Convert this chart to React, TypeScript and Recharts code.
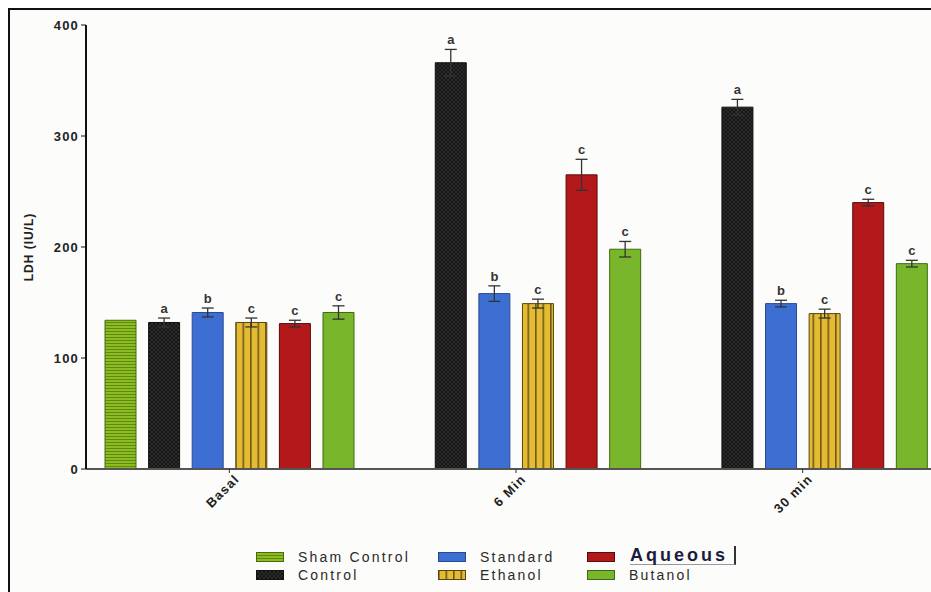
import { BarChart, Bar, XAxis, YAxis, ErrorBar, LabelList } from "recharts";

const categories = ["Basal", "6 Min", "30 min"];
const seriesNames = ["Sham Control", "Control", "Standard", "Ethanol", "Aqueous", "Butanol"];

// LDH (IU/L) means
const shamControl = [134, null, null];
const control = [132, 366, 326];
const standard = [141, 158, 149];
const ethanol = [132, 149, 140];
const aqueous = [131, 265, 240];
const butanol = [141, 198, 185];

// error bars (SEM)
const shamErr = [0, null, null];
const controlErr = [4, 12, 7];
const standardErr = [4, 7, 3];
const ethanolErr = [4, 4, 4];
const aqueousErr = [3, 14, 3];
const butanolErr = [6, 7, 3];

// significance letters
const shamLetters = ["", "", ""];
const controlLetters = ["a", "a", "a"];
const standardLetters = ["b", "b", "b"];
const ethanolLetters = ["c", "c", "c"];
const aqueousLetters = ["c", "c", "c"];
const butanolLetters = ["c", "c", "c"];

const yTicks = [0, 100, 200, 300, 400];

const values = [shamControl, control, standard, ethanol, aqueous, butanol];
const errors = [shamErr, controlErr, standardErr, ethanolErr, aqueousErr, butanolErr];
const letters = [shamLetters, controlLetters, standardLetters, ethanolLetters, aqueousLetters, butanolLetters];

const keys = ["sham", "control", "standard", "ethanol", "aqueous", "butanol"];
const fills = ["url(#pSham)", "url(#pControl)", "#3d6fd3", "url(#pEthanol)", "#b3191b", "#79b62b"];
const strokes = ["#4a6a0e", "#111", "#2a4a90", "#5a4510", "#5a0c0c", "#3f6a12"];

const data = categories.map((name, i) => {
  const row: Record<string, any> = { name };
  keys.forEach((k, s) => {
    row[k] = values[s][i];
    row[k + "Err"] = errors[s][i];
    row[k + "Letter"] = letters[s][i];
  });
  return row;
});

const font = "'Liberation Sans', Arial, sans-serif";

function XTick({ x, y, payload }: any) {
  return (
    <g transform={`translate(${x + 8},${y + 2})`}>
      <text
        transform="rotate(-45)"
        textAnchor="end"
        dy={4}
        fontFamily={font}
        fontWeight="bold"
        fontSize={13}
        letterSpacing={1.2}
        fill="#222"
      >
        {payload.value}
      </text>
    </g>
  );
}

function letterLabel(s: number) {
  return (props: any) => {
    const vb = props.viewBox || props;
    const { x, y, width, height } = vb;
    const idx = props.index;
    const v = values[s][idx];
    const e = errors[s][idx] || 0;
    if (v == null || !props.value) return null;
    const errPx = (Math.abs(height) / v) * e;
    return (
      <text
        x={x + width / 2}
        y={y - errPx - 5}
        textAnchor="middle"
        fontFamily={font}
        fontWeight="bold"
        fontSize={13}
        fill="#333"
      >
        {props.value}
      </text>
    );
  };
}

function Swatch({ fill, stroke }: { fill: string; stroke: string }) {
  return (
    <svg width={28} height={10} style={{ display: "block" }}>
      <rect x={0.5} y={0.5} width={27} height={9} fill={fill} stroke={stroke} />
    </svg>
  );
}

export default function App() {
  return (
    <div
      style={{
        position: "absolute",
        left: 8,
        top: 8,
        width: 921,
        height: 582,
        borderLeft: "2px solid #111",
        borderTop: "2px solid #111",
        overflow: "hidden",
        background: "#fcfcfb",
      }}
    >
      <BarChart
        width={941}
        height={582}
        data={data}
        margin={{ top: 15, right: 5, left: 0, bottom: 83 }}
        barSize={31}
        barGap={12.6}
      >
        <defs>
          <pattern id="pSham" width="6" height="3" patternUnits="userSpaceOnUse">
            <rect width="6" height="3" fill="#8cbb22" />
            <line x1="0" y1="0.5" x2="6" y2="0.5" stroke="#5d8a12" strokeWidth="1" />
          </pattern>
          <pattern id="pControl" width="4" height="4" patternUnits="userSpaceOnUse">
            <rect width="4" height="4" fill="#161616" />
            <path d="M0,0 L4,4 M4,0 L0,4" stroke="#333" strokeWidth="0.7" />
          </pattern>
          <pattern id="pEthanol" width="7.5" height="4" patternUnits="userSpaceOnUse">
            <rect width="7.5" height="4" fill="#e4bb33" />
            <rect width="1.6" height="4" fill="#6b5a1a" />
          </pattern>
        </defs>
        <XAxis
          dataKey="name"
          height={40}
          tick={<XTick />}
          tickSize={4}
          tickLine={{ stroke: "#333" }}
          axisLine={{ stroke: "#555", strokeWidth: 2 }}
          interval={0}
        />
        <YAxis
          width={76}
          domain={[0, 400]}
          ticks={yTicks}
          tickSize={5}
          tickLine={{ stroke: "#111" }}
          axisLine={{ stroke: "#111", strokeWidth: 2 }}
          tick={{ fontFamily: font, fontWeight: "bold", fontSize: 13, fill: "#222", letterSpacing: 1.2 }}
          label={{
            content: ({ viewBox }: any) => {
              const cx = viewBox.x + 20;
              const cy = viewBox.y + viewBox.height / 2;
              return (
                <text
                  x={cx}
                  y={cy}
                  transform={`rotate(-90, ${cx}, ${cy})`}
                  textAnchor="middle"
                  dominantBaseline="middle"
                  fontFamily={font}
                  fontWeight="bold"
                  fontSize={12}
                  letterSpacing={1}
                  fill="#222"
                >
                  LDH (IU/L)
                </text>
              );
            },
          }}
        />
        {keys.map((k, s) => (
          <Bar
            key={k}
            dataKey={k}
            name={seriesNames[s]}
            fill={fills[s]}
            stroke={strokes[s]}
            strokeWidth={1}
            isAnimationActive={false}
          >
            <ErrorBar dataKey={k + "Err"} width={6} stroke="#333" strokeWidth={1.3} direction="y" />
            <LabelList dataKey={k + "Letter"} content={letterLabel(s)} />
          </Bar>
        ))}
      </BarChart>

      <div style={{ position: "absolute", left: 246, top: 538, fontFamily: font }}>
        {seriesNames.map((n, i) => {
          const col = Math.floor(i / 2);
          const row = i % 2;
          const left = [0, 182, 331][col];
          const isAq = n === "Aqueous";
          return (
            <div
              key={n}
              style={{
                position: "absolute",
                left,
                top: row * 18,
                display: "flex",
                alignItems: "center",
                whiteSpace: "nowrap",
                height: 18,
              }}
            >
              <Swatch fill={fills[i]} stroke={strokes[i]} />
              <span
                style={
                  isAq
                    ? {
                        marginLeft: 15,
                        fontSize: 18,
                        fontWeight: 600,
                        letterSpacing: 3,
                        color: "#1b1b40",
                        borderBottom: "1px solid #999",
                        paddingRight: 6,
                        borderRight: "2px solid #333",
                        lineHeight: "18px",
                        marginTop: -4,
                      }
                    : { marginLeft: 14, fontSize: 14, letterSpacing: 2.2, color: "#2a2a2a" }
                }
              >
                {n}
              </span>
            </div>
          );
        })}
      </div>
    </div>
  );
}
